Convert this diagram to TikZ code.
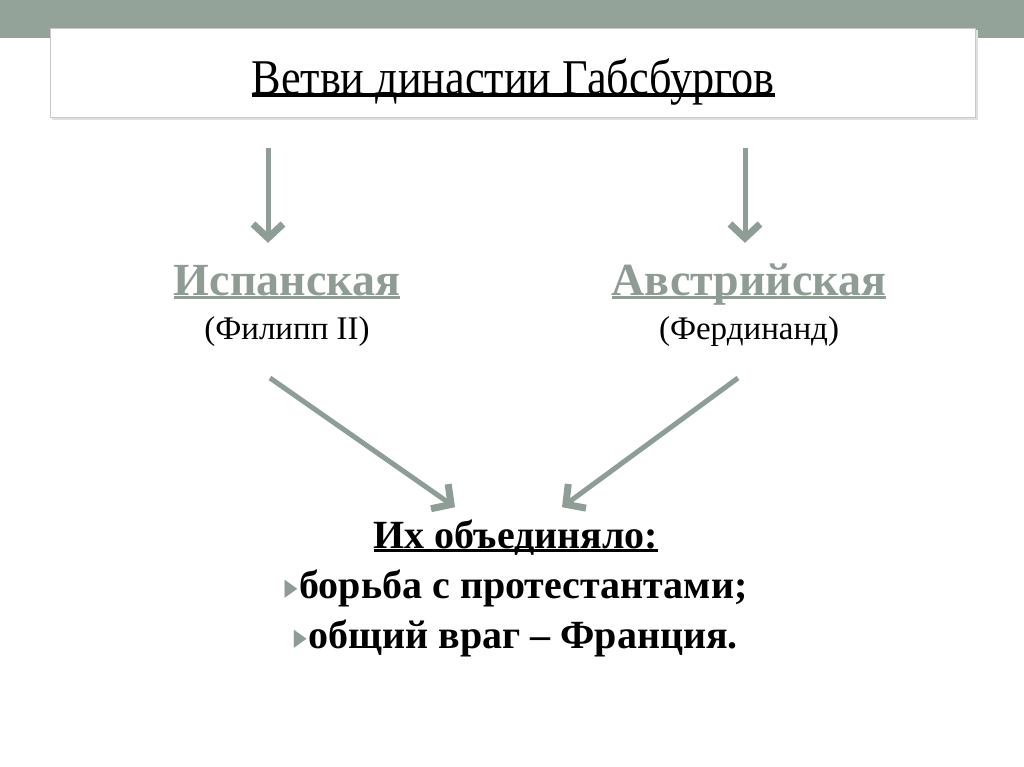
\documentclass[tikz,border=0pt]{standalone}
\usepackage{fontspec}
\setmainfont{Liberation Serif}
\newfontfamily\symfont{DejaVu Sans}
\usetikzlibrary{arrows.meta,calc}
\definecolor{band}{HTML}{94A39A}
\definecolor{arrowc}{HTML}{8E9D95}
\definecolor{greytext}{HTML}{8E9C94}
\definecolor{boxline}{HTML}{C8C8C8}
\newcommand\myul[2][3pt]{\setbox0\hbox{#2}\rlap{\rule[-#1]{\wd0}{0.07em}}\box0}
\newcommand\mybullet{{\color{greytext}\symfont\fontsize{24}{24}\selectfont\raisebox{3pt}{\scalebox{0.7}[1]{▶}}}\hspace{2pt}}
\tikzset{
  arr/.style={draw=arrowc, line width=5pt, -{Straight Barb[length=14pt,width=30pt,line width=7pt]}},
  branch/.style={font=\bfseries\fontsize{46}{50}\selectfont, text=greytext, inner sep=0pt, text height=32pt, text depth=8pt, anchor=base},
  ruler/.style={font=\fontsize{33}{36}\selectfont, inner sep=0pt, anchor=base},
}
\begin{document}
\begin{tikzpicture}[x=1pt,y=-1pt]
\useasboundingbox (0,0) rectangle (1024,767);
\fill[white] (0,0) rectangle (1024,767);
\fill[band] (0,0) rectangle (1024,38);
\fill[black!12] (52,30) rectangle (978,120);
\filldraw[fill=white, draw=boxline, line width=0.8pt] (50,28) rectangle (975,117);
\node[inner sep=0pt, anchor=base, font=\fontsize{50}{56}\selectfont] (title) at (513,95)
  {\scalebox{0.885}[1]{\myul[2pt]{Ветви династии Габсбургов}}};
\node[branch] (spain) at (287,295) {\myul[4pt]{Испанская}};
\node[ruler] (spainsub) at (287,339) {(Филипп II)};
\node[branch] (austria) at (749,295) {\myul[4pt]{Австрийская}};
\node[ruler] (austriasub) at (749,339) {(Фердинанд)};
\node[inner sep=0pt, anchor=base, align=center, font=\bfseries\fontsize{40}{50}\selectfont] (united) at (516,648)
  {\myul[4pt]{Их объединяло:}\\
   \mybullet борьба с протестантами;\\
   \mybullet общий враг – Франция.};
\coordinate (sa) at (268,148);
\coordinate (aa) at (745,148);
\draw[arr, shorten >=20pt] (sa) -- (spain.north -| sa);
\draw[arr, shorten >=20pt] (aa) -- (austria.north -| aa);
\coordinate (ds) at (270,378);
\coordinate (de) at (738,378);
\draw[arr] (ds) -- ($(united.north)+(-61,-12)$);
\draw[arr] (de) -- ($(united.north)+(46,-12)$);
\end{tikzpicture}
\end{document}
